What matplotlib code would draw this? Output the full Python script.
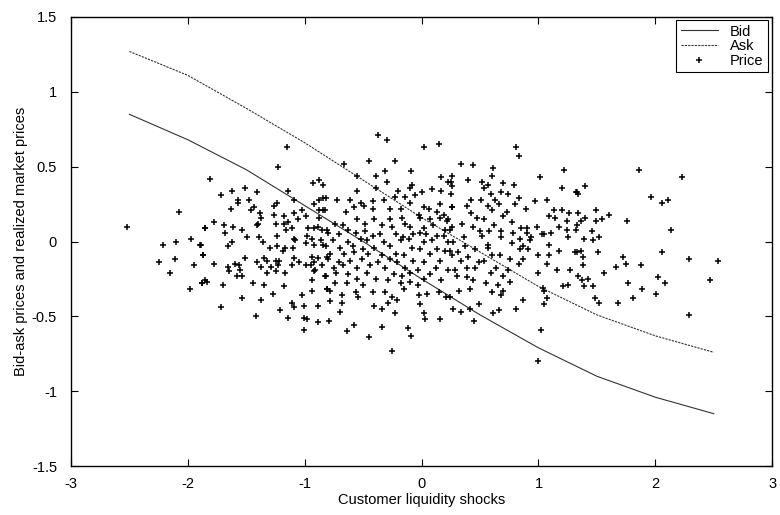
import numpy as np
import matplotlib
matplotlib.use("Agg")
import matplotlib.pyplot as plt

plt.rcParams['font.family'] = ['Liberation Sans', 'DejaVu Sans']

# --- Bid / ask quotes against the liquidity shock ---
shock_grid = [-2.5, -2.0, -1.5, -1.0, -0.5, 0.0, 0.5, 1.0, 1.5, 2.0, 2.5]
ask = [1.27, 1.11, 0.89, 0.66, 0.41, 0.16, -0.07, -0.30, -0.49, -0.63, -0.74]
bid = [0.85, 0.68, 0.48, 0.24, 0.00, -0.25, -0.49, -0.71, -0.90, -1.04, -1.15]

# --- Realized prices (shock, price) ---
price_pts = [
    # far left
    (-2.08, 0.20), (-2.52, 0.10), (-1.85, 0.09), (-1.97, 0.02), (-2.21, -0.02),
    (-1.90, -0.02), (-2.10, 0.00), (-1.87, -0.09), (-2.11, -0.12), (-2.25, -0.14),
    (-1.95, -0.16), (-2.15, -0.21), (-1.85, -0.26), (-1.88, -0.28), (-1.98, -0.32),
    # -1.9 .. -0.8
    (-1.15, 0.63), (-1.23, 0.50), (-1.81, 0.42), (-0.88, 0.41), (-0.93, 0.39),
    (-0.84, 0.38), (-1.62, 0.34), (-1.41, 0.33), (-1.51, 0.36), (-1.14, 0.34),
    (-1.72, 0.31), (-1.57, 0.28), (-1.48, 0.28), (-1.57, 0.26), (-1.24, 0.26),
    (-1.09, 0.28), (-0.88, 0.28), (-0.84, 0.29), (-1.63, 0.22), (-1.46, 0.21),
    (-1.43, 0.23), (-1.26, 0.24), (-1.38, 0.19), (-1.02, 0.21), (-0.92, 0.25),
    (-0.88, 0.21), (-0.83, 0.21), (-1.37, 0.16), (-1.26, 0.18), (-1.18, 0.17),
    (-1.09, 0.19), (-0.99, 0.17), (-0.88, 0.16), (-1.78, 0.13), (-1.69, 0.11),
    (-1.61, 0.10), (-1.54, 0.08), (-1.85, 0.09), (-1.41, 0.11), (-1.40, 0.12),
    (-1.25, 0.12), (-1.18, 0.12), (-1.14, 0.13), (-1.06, 0.15), (-1.16, 0.08),
    (-1.11, 0.09), (-0.97, 0.09), (-0.92, 0.09), (-0.89, 0.10), (-0.85, 0.08),
    (-0.81, 0.08), (-1.68, 0.06), (-1.49, 0.03), (-1.39, 0.03), (-1.36, 0.00),
    (-1.24, 0.04), (-1.09, 0.02), (-1.08, 0.01), (-0.98, 0.04), (-0.94, 0.02),
    (-0.99, -0.01), (-0.92, -0.02), (-0.86, 0.01), (-0.84, -0.02), (-1.89, -0.02),
    (-1.62, 0.00), (-1.66, -0.03), (-1.30, -0.04), (-1.24, -0.03), (-1.17, -0.04),
    (-1.10, -0.04), (-1.19, -0.06), (-1.87, -0.09), (-1.51, -0.11), (-1.35, -0.11),
    (-1.41, -0.14), (-1.32, -0.13), (-1.25, -0.13), (-1.22, -0.13), (-1.09, -0.11),
    (-1.05, -0.14), (-0.94, -0.10), (-0.89, -0.11), (-0.92, -0.14), (-0.81, -0.10),
    (-1.78, -0.15), (-1.60, -0.15), (-1.56, -0.16), (-1.37, -0.17), (-1.29, -0.17),
    (-1.23, -0.16), (-1.11, -0.16), (-0.99, -0.16), (-0.95, -0.16), (-0.91, -0.19),
    (-0.85, -0.16), (-1.66, -0.17), (-1.65, -0.20), (-1.55, -0.19), (-1.32, -0.21),
    (-1.25, -0.20), (-1.17, -0.21), (-0.92, -0.20), (-0.82, -0.23), (-1.58, -0.23),
    (-1.54, -0.23), (-1.88, -0.28), (-1.84, -0.27), (-1.70, -0.29), (-1.44, -0.28),
    (-1.35, -0.29), (-0.94, -0.26), (-1.18, -0.30), (-0.81, -0.32), (-0.94, -0.33),
    (-1.27, -0.35), (-1.54, -0.38), (-1.02, -0.36), (-1.37, -0.39), (-1.11, -0.41),
    (-1.09, -0.44), (-1.01, -0.43), (-0.89, -0.43), (-1.72, -0.44), (-1.21, -0.46),
    (-1.42, -0.50), (-1.14, -0.51), (-1.01, -0.51), (-0.98, -0.52), (-0.89, -0.54),
    (-1.01, -0.59),
    # -0.84 .. 0.27 (dense core)
    (-0.37, 0.71), (-0.30, 0.68), (0.02, 0.63), (0.15, 0.65), (-0.23, 0.54),
    (-0.45, 0.54), (-0.66, 0.52), (-0.09, 0.47), (-0.31, 0.47), (-0.55, 0.44),
    (-0.39, 0.44), (-0.30, 0.40), (0.17, 0.43), (0.23, 0.40), (-0.08, 0.38),
    (-0.10, 0.36), (-0.39, 0.36), (-0.20, 0.34), (-0.55, 0.34), (-0.72, 0.28),
    (-0.06, 0.31), (0.00, 0.33), (0.09, 0.35), (0.17, 0.34), (0.26, 0.37),
    (-0.23, 0.30), (-0.14, 0.30), (-0.32, 0.28), (-0.42, 0.27), (-0.52, 0.26),
    (-0.61, 0.28), (-0.82, 0.29), (-0.10, 0.26), (0.02, 0.23), (0.06, 0.22),
    (0.16, 0.25), (0.26, 0.23), (-0.42, 0.22), (-0.49, 0.24), (-0.58, 0.23),
    (-0.65, 0.20), (-0.27, 0.22), (-0.18, 0.22), (-0.02, 0.18), (0.13, 0.20),
    (0.19, 0.18), (-0.55, 0.15), (-0.41, 0.15), (-0.27, 0.15), (-0.17, 0.16),
    (-0.01, 0.16), (0.07, 0.15), (0.16, 0.16), (0.22, 0.14), (-0.84, 0.21),
    (-0.74, 0.12), (-0.67, 0.11), (-0.63, 0.08), (-0.48, 0.12), (-0.34, 0.11),
    (-0.25, 0.10), (-0.14, 0.12), (-0.10, 0.10), (0.02, 0.09), (0.10, 0.11),
    (0.20, 0.08), (0.26, 0.10), (-0.80, 0.06), (-0.71, 0.05), (-0.56, 0.06),
    (-0.48, 0.07), (-0.42, 0.04), (-0.36, 0.05), (-0.22, 0.05), (-0.16, 0.03),
    (-0.07, 0.05), (-0.01, 0.06), (0.04, 0.05), (0.13, 0.04), (0.19, 0.04),
    (-0.76, 0.01), (-0.63, 0.00), (-0.52, 0.02), (-0.47, 0.01), (-0.32, 0.00),
    (-0.18, 0.01), (-0.11, 0.02), (0.02, 0.00), (0.09, 0.01), (0.23, 0.00),
    (-0.82, -0.03), (-0.70, -0.04), (-0.59, -0.03), (-0.50, -0.05), (-0.41, -0.04),
    (-0.27, -0.03), (-0.08, -0.04), (-0.01, -0.05), (0.13, -0.05), (0.20, -0.06),
    (-0.78, -0.08), (-0.66, -0.08), (-0.58, -0.07), (-0.46, -0.08), (-0.34, -0.09),
    (-0.22, -0.08), (-0.15, -0.09), (0.07, -0.08), (0.26, -0.09), (-0.80, -0.12),
    (-0.71, -0.14), (-0.61, -0.13), (-0.51, -0.12), (-0.37, -0.14), (-0.27, -0.12),
    (-0.21, -0.14), (-0.07, -0.13), (0.02, -0.14), (0.16, -0.13), (-0.75, -0.18),
    (-0.67, -0.16), (-0.55, -0.18), (-0.44, -0.16), (-0.31, -0.18), (-0.14, -0.18),
    (-0.03, -0.19), (0.12, -0.18), (0.23, -0.19), (-0.73, -0.21), (-0.63, -0.22),
    (-0.47, -0.21), (-0.24, -0.22), (-0.17, -0.23), (-0.10, -0.21), (0.07, -0.22),
    (-0.83, -0.23), (-0.55, -0.25), (-0.39, -0.25), (-0.29, -0.26), (-0.10, -0.27),
    (0.02, -0.25), (0.17, -0.26), (-0.74, -0.28), (-0.64, -0.28), (-0.50, -0.29),
    (-0.18, -0.28), (-0.03, -0.29), (-0.81, -0.32), (-0.78, -0.33), (-0.56, -0.34),
    (-0.42, -0.34), (-0.31, -0.34), (-0.15, -0.32), (0.05, -0.35), (0.15, -0.34),
    (-0.68, -0.36), (-0.54, -0.37), (-0.25, -0.37), (-0.02, -0.36), (0.21, -0.37),
    (-0.78, -0.40), (-0.68, -0.41), (-0.41, -0.43), (-0.29, -0.41), (-0.21, -0.39),
    (-0.01, -0.42), (-0.34, -0.45), (-0.70, -0.47), (-0.23, -0.48), (0.02, -0.48),
    (0.16, -0.52), (0.03, -0.52), (-0.79, -0.53), (-0.58, -0.56), (-0.34, -0.57),
    (-0.12, -0.58), (-0.64, -0.60), (-0.09, -0.63), (-0.45, -0.64), (-0.25, -0.73),
    # 0.23 .. 1.34
    (0.81, 0.63), (0.83, 0.57), (0.34, 0.52), (0.44, 0.51), (0.61, 0.49),
    (1.22, 0.48), (0.26, 0.44), (0.60, 0.44), (1.01, 0.43), (0.25, 0.40),
    (0.40, 0.41), (0.52, 0.40), (0.70, 0.39), (0.79, 0.38), (0.57, 0.38),
    (0.53, 0.36), (1.20, 0.36), (1.33, 0.33), (0.25, 0.32), (0.59, 0.32),
    (0.68, 0.33), (0.74, 0.32), (0.42, 0.28), (0.51, 0.28), (0.63, 0.28),
    (0.83, 0.29), (0.97, 0.27), (1.07, 0.28), (0.26, 0.23), (0.39, 0.24),
    (0.57, 0.24), (0.66, 0.25), (0.80, 0.25), (0.60, 0.21), (0.73, 0.20),
    (0.89, 0.22), (1.13, 0.21), (1.20, 0.21), (1.26, 0.19), (0.42, 0.19),
    (0.47, 0.16), (0.53, 0.15), (0.70, 0.17), (1.09, 0.17), (1.14, 0.16),
    (1.24, 0.14), (0.23, 0.15), (0.35, 0.12), (0.44, 0.10), (0.62, 0.11),
    (0.77, 0.13), (0.85, 0.09), (0.90, 0.09), (0.99, 0.10), (1.18, 0.10),
    (1.24, 0.08), (1.33, 0.11), (0.24, 0.08), (0.50, 0.07), (0.58, 0.07),
    (0.68, 0.07), (0.78, 0.06), (0.90, 0.06), (1.03, 0.05), (1.05, 0.05),
    (1.11, 0.06), (0.36, 0.03), (0.52, 0.04), (0.68, 0.03), (0.84, 0.02),
    (0.94, 0.03), (1.25, 0.03), (0.57, -0.02), (0.77, -0.01), (0.87, -0.03),
    (0.93, 0.01), (1.09, -0.02), (0.27, 0.00), (0.37, -0.03), (0.46, -0.05),
    (0.57, -0.04), (0.84, -0.05), (0.91, -0.05), (1.18, -0.06), (1.33, -0.07),
    (0.24, -0.06), (0.31, -0.07), (0.40, -0.10), (0.60, -0.09), (0.67, -0.09),
    (0.87, -0.12), (1.00, -0.09), (1.09, -0.09), (0.34, -0.13), (0.49, -0.14),
    (0.53, -0.13), (0.76, -0.12), (0.83, -0.15), (1.07, -0.15), (1.27, -0.19),
    (1.16, -0.19), (0.29, -0.19), (0.39, -0.18), (0.46, -0.18), (0.64, -0.18),
    (0.74, -0.19), (1.00, -0.21), (0.30, -0.23), (0.39, -0.24), (0.59, -0.21),
    (0.70, -0.23), (0.44, -0.26), (0.55, -0.28), (0.65, -0.29), (0.76, -0.27),
    (1.04, -0.31), (1.21, -0.30), (1.25, -0.29), (0.32, -0.33), (0.41, -0.32),
    (0.60, -0.34), (0.70, -0.33), (1.05, -0.33), (0.24, -0.37), (0.68, -0.36),
    (0.87, -0.39), (1.07, -0.38), (0.49, -0.42), (1.05, -0.42), (0.27, -0.45),
    (0.81, -0.45), (0.66, -0.46), (0.61, -0.48), (0.41, -0.45), (0.34, -0.47),
    (0.45, -0.53), (1.02, -0.59), (1.00, -0.80),
    # right tail
    (1.86, 0.48), (2.23, 0.43), (1.40, 0.37), (1.32, 0.33), (1.34, 0.32),
    (1.96, 0.30), (2.06, 0.26), (2.11, 0.28), (1.34, 0.19), (1.49, 0.21),
    (1.60, 0.18), (1.40, 0.16), (1.36, 0.14), (1.49, 0.14), (1.54, 0.15),
    (1.76, 0.14), (1.32, 0.08), (2.13, 0.08), (1.46, 0.07), (1.39, 0.02),
    (1.47, 0.01), (1.52, 0.03), (1.31, -0.07), (1.36, -0.06), (1.38, -0.10),
    (1.51, -0.07), (2.06, -0.07), (1.72, -0.10), (2.29, -0.12), (2.54, -0.13),
    (1.38, -0.16), (1.75, -0.15), (1.88, -0.16), (1.66, -0.17), (1.34, -0.23),
    (1.56, -0.21), (1.42, -0.25), (2.02, -0.24), (1.37, -0.26), (2.47, -0.26),
    (1.77, -0.28), (2.08, -0.28), (1.39, -0.30), (1.47, -0.30), (1.89, -0.32),
    (2.01, -0.35), (1.48, -0.38), (1.81, -0.38), (1.52, -0.41), (1.68, -0.41),
    (2.29, -0.49),
]

x_ticks = [-3, -2, -1, 0, 1, 2, 3]
y_ticks = [-1.5, -1, -0.5, 0, 0.5, 1, 1.5]

shock = np.array([p[0] for p in price_pts])
price = np.array([p[1] for p in price_pts])

# --- Plotting ---
fig = plt.figure(figsize=(7.8, 5.15), dpi=100)
ax = fig.add_axes([0.091, 0.095, 0.899, 0.872])

ax.plot(shock_grid, bid, color='#333333', linewidth=0.8, linestyle='-', label='Bid')
ax.plot(shock_grid, ask, color='#333333', linewidth=0.8, linestyle=(0, (2, 1)), label='Ask')
ax.plot(shock, price, linestyle='none', marker='+', markersize=4.5,
        markeredgewidth=1.1, color='black', label='Price')

ax.set_xlim(-3, 3)
ax.set_ylim(-1.5, 1.5)
ax.set_xticks(x_ticks)
ax.set_yticks(y_ticks)
ax.set_xticklabels([str(t) for t in x_ticks])
ax.set_yticklabels(['-1.5', '-1', '-0.5', '0', '0.5', '1', '1.5'])
ax.tick_params(direction='in', top=True, right=True, length=5, width=0.8,
               labelsize=10.5, colors='black')
ax.tick_params(axis='x', pad=8)
ax.tick_params(axis='y', pad=10)
for s in ax.spines.values():
    s.set_linewidth(1.0)

# --- Labels ---
ax.set_xlabel('Customer liquidity shocks', fontsize=10.5, labelpad=1)
ax.set_ylabel('Bid-ask prices and realized market prices', fontsize=10.5, labelpad=3)

leg = ax.legend(loc='upper right', bbox_to_anchor=(0.994, 0.993), fontsize=10.5,
                fancybox=False, edgecolor='black', framealpha=1,
                handlelength=2.6, handletextpad=0.8, borderpad=0.3,
                labelspacing=0.05, borderaxespad=0)
leg.get_frame().set_linewidth(0.8)

fig.savefig('out.png', dpi=100)
